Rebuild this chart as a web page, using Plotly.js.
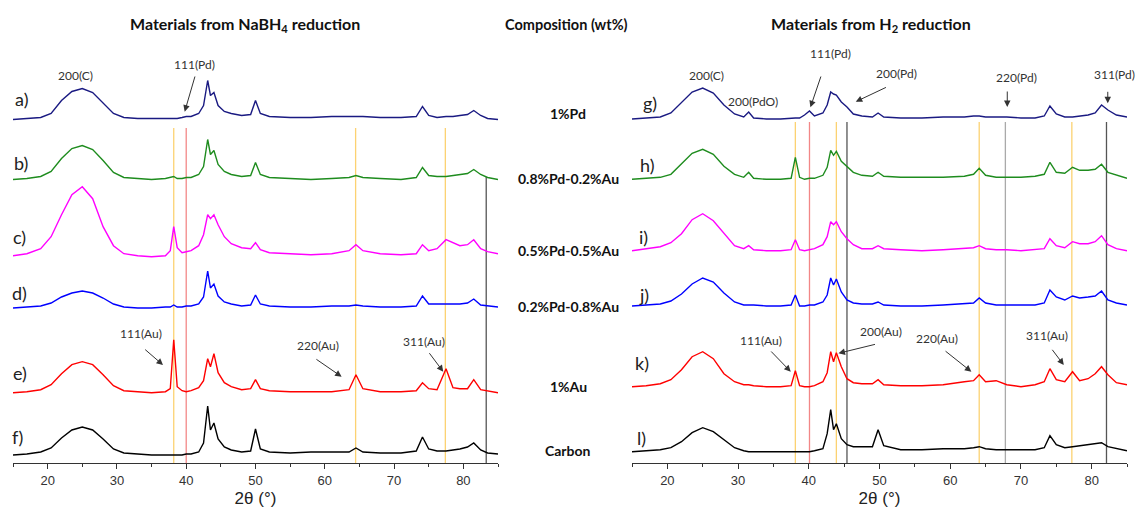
<!DOCTYPE html>
<html><head><meta charset="utf-8">
<script src="https://cdn.plot.ly/plotly-3.0.1.min.js"></script>
<style>html,body{margin:0;padding:0;background:#fff}#chart{width:1140px;height:508px}</style>
</head><body><div id="chart"></div>
<script>
// 2θ sample positions (degrees)
const twoThetaLeft = [15,17,19,20.5,22,23.5,25,26.5,28,29.5,31,33,35,37,37.7,38.2,38.7,39.4,40,40.7,41.8,42.5,43.1,43.5,44,44.6,45.5,46.5,48,49.3,50,50.7,52,55,58,61,63.5,64.5,65.5,68,71,73.2,74.1,75,76.2,77.5,78.5,79.5,80.6,81.5,82.5,83.5,85];
const twoThetaRight = [15,17,19,20.5,22,23.5,25,26.5,28,29.5,30.8,31.5,32.2,34,36,37.5,38.1,38.7,39.4,40.1,40.8,42,42.6,43.1,43.5,43.9,44.6,45.4,46.3,47.5,49,49.8,50.6,53,56,59,62,63.3,64.1,65,66.5,68,70,72,73.3,74.1,75,76.2,77.3,78.3,79.5,80.5,81.4,82.3,83.5,85];

// NaBH4 reduction series (intensity, a.u., above own baseline)
const a_1Pd      = [0,1,2,6,19,28,31,27,17,6,2,1,1,1,1,1,1,2,3,3,6,14,39,24,27,14,8,6,4,5,19,6,3,2,2,3,3,3,3,2,2,3,13,4,2,3,3,4,5,9,4,1,0];
const b_08Pd02Au = [0,1,3,8,21,31,34,30,19,7,2,1,0,1,2,3,1,1,2,2,5,13,40,25,29,15,8,5,3,4,17,5,2,1,0,1,2,4,2,1,0,2,12,4,3,3,4,5,6,10,5,2,0];
const c_05Pd05Au = [1,3,8,20,42,62,70,58,30,11,3,1,0,1,6,30,9,4,5,6,11,22,42,38,42,32,20,13,9,8,14,7,4,3,2,3,6,12,6,3,2,3,12,6,8,17,14,11,12,17,8,5,3];
const d_02Pd08Au = [0,1,2,5,11,15,17,15,10,4,1,0,0,1,1,3,1,1,2,2,4,11,37,20,24,12,6,4,2,3,13,4,2,1,1,2,2,3,2,1,1,2,12,4,4,4,4,4,5,9,3,2,1];
const e_1Au      = [0,1,3,8,19,28,31,28,18,7,2,1,0,1,4,53,6,2,1,2,5,12,34,26,39,20,10,6,3,4,13,4,2,1,1,1,3,18,4,1,1,2,10,4,3,24,5,4,4,13,3,2,0];
const f_carbon   = [0,1,3,7,17,25,28,25,16,6,2,1,0,0,0,0,0,0,1,1,3,12,49,25,32,16,8,5,3,4,26,6,3,2,3,3,3,7,3,2,2,4,18,6,4,4,5,6,8,12,5,2,1];

// H2 reduction series
const g_1Pd      = [0,1,2,6,17,27,31,26,14,5,2,7,1,0,0,1,1,1,4,8,3,6,14,27,25,24,17,12,5,3,2,6,2,1,1,2,2,3,3,2,2,2,1,1,3,13,5,2,2,3,4,6,14,9,4,2];
const h_08Pd02Au = [0,1,2,5,15,26,30,25,13,5,2,7,1,0,0,1,22,2,0,1,1,4,12,29,24,28,18,13,7,4,3,7,3,2,2,2,3,5,11,4,2,2,2,3,5,17,7,6,12,9,9,10,15,7,4,1];
const i_05Pd05Au = [0,2,4,8,17,31,37,30,17,5,2,5,1,0,0,1,11,1,0,1,2,6,14,29,26,29,19,12,6,2,2,5,2,1,0,1,2,3,5,2,1,1,0,1,2,12,5,3,9,7,7,9,15,6,2,0];
const j_02Pd08Au = [0,1,2,5,12,22,28,24,13,4,1,1,1,0,0,1,11,0,0,1,1,4,11,28,21,27,14,6,3,2,2,4,1,0,0,1,2,3,8,3,1,1,1,1,3,16,9,6,10,8,9,10,15,6,3,1];
const k_1Au      = [0,1,3,7,17,30,35,28,13,5,2,2,1,0,0,1,16,1,0,0,1,5,14,35,25,34,20,8,4,3,3,7,2,1,1,2,5,6,12,5,6,2,0,2,5,18,7,5,15,6,8,13,20,12,4,2];
const l_carbon   = [0,1,2,4,10,19,24,20,12,4,1,0,0,0,0,0,0,0,0,0,1,3,18,42,22,28,13,7,5,5,5,22,6,2,2,3,3,4,5,3,2,2,2,2,4,16,7,4,5,6,7,8,9,5,3,1];

// stacking offsets (a.u.)
const offsetsLeft  = [343.5, 283.5, 206.3, 155, 70.3, 8];
const offsetsRight = [344, 283.7, 212.3, 157, 76.3, 11.3];

// labels
const panelLettersLeft  = ['a)','b)','c)','d)','e)','f)'];
const panelLettersRight = ['g)','h)','i)','j)','k)','l)'];
const compositions = ['1%Pd','0.8%Pd-0.2%Au','0.5%Pd-0.5%Au','0.2%Pd-0.8%Au','1%Au','Carbon'];
const tickVals = [20,30,40,50,60,70,80];
const tickText = ['20','30','40','50','60','70','80'];

// reference reflection positions (2θ)
const refLinesLeft  = [38.2, 40.0, 64.45, 77.4, 83.3];
const refLinesRight = [38.1, 40.1, 43.9, 45.4, 64.1, 67.8, 77.2, 82.1];

const seriesLeft  = [a_1Pd, b_08Pd02Au, c_05Pd05Au, d_02Pd08Au, e_1Au, f_carbon];
const seriesRight = [g_1Pd, h_08Pd02Au, i_05Pd05Au, j_02Pd08Au, k_1Au, l_carbon];
const colors = ['#1a1a82','#1e8c1e','#ff00ff','#0000ff','#ff0000','#000000'];

seriesLeft.forEach((s,i)=>{ if (s.length!==twoThetaLeft.length) throw new Error('left series '+i+' length '+s.length); });
seriesRight.forEach((s,i)=>{ if (s.length!==twoThetaRight.length) throw new Error('right series '+i+' length '+s.length); });

const traces = [];
seriesLeft.forEach((s,i)=>traces.push({x:twoThetaLeft, y:s.map(v=>v+offsetsLeft[i]), type:'scatter', mode:'lines',
  line:{color:colors[i], width:1.4}, xaxis:'x', yaxis:'y', hoverinfo:'skip', showlegend:false}));
seriesRight.forEach((s,i)=>traces.push({x:twoThetaRight, y:s.map(v=>v+offsetsRight[i]), type:'scatter', mode:'lines',
  line:{color:colors[i], width:1.4}, xaxis:'x2', yaxis:'y2', hoverinfo:'skip', showlegend:false}));

const ORANGE='rgba(250,180,20,0.6)', RED='rgba(235,70,70,0.65)', DARK='#555', GRAY='#aaa';
const leftLineStyle  = [[ORANGE,335],[RED,335],[ORANGE,335],[ORANGE,335],[DARK,286]];
const rightLineStyle = [[ORANGE,341],[RED,341],[ORANGE,341],[DARK,341],[ORANGE,341],[GRAY,341],[ORANGE,341],[DARK,341]];
const shapes = [];
refLinesLeft.forEach((p,i)=>shapes.push({type:'line', xref:'x', yref:'y', x0:p, x1:p, y0:0, y1:leftLineStyle[i][1], layer:'below', line:{color:leftLineStyle[i][0], width:1.3}}));
refLinesRight.forEach((p,i)=>shapes.push({type:'line', xref:'x2', yref:'y2', x0:p, x1:p, y0:0, y1:rightLineStyle[i][1], layer:'below', line:{color:rightLineStyle[i][0], width:1.3}}));

const TXT = {family:'Lato, "Open Sans", sans-serif', size:12, color:'#333'};
const ann = [];
function label(xref, x, y, text, font){ ann.push({xref:xref, yref:'y', x:x, y:y, text:text, showarrow:false, font:font||TXT, xanchor:'center', yanchor:'middle'}); }
function arrow(xref, x, y, ax, ay){ ann.push({xref:xref, yref:'y', x:x, y:y, ax:ax, ay:ay, text:'', showarrow:true, arrowhead:2, arrowsize:1.3, arrowwidth:1, arrowcolor:'#333'}); }

// titles
const TITLE = {family:'Lato, "Open Sans", sans-serif', size:16, color:'#111'};
ann.push({xref:'paper', yref:'y', x:(245-13)/1114, y:439, text:'<b>Materials from NaBH<sub>4</sub> reduction</b>', showarrow:false, font:TITLE, xanchor:'center', yanchor:'middle'});
ann.push({xref:'paper', yref:'y', x:(566-13)/1114, y:439, text:'<b>Composition (wt%)</b>', showarrow:false, font:{family:'Lato, sans-serif', size:14.5, color:'#111'}, xanchor:'center', yanchor:'middle'});
ann.push({xref:'paper', yref:'y', x:(871-13)/1114, y:439, text:'<b>Materials from H<sub>2</sub> reduction</b>', showarrow:false, font:TITLE, xanchor:'center', yanchor:'middle'});

// composition column
const compY = [350, 284.7, 212.3, 156.3, 76.3, 13];
compositions.forEach((c,i)=>ann.push({xref:'paper', yref:'y', x:(568-13)/1114, y:compY[i], text:'<b>'+c+'</b>', showarrow:false, font:{family:'Lato, sans-serif', size:14, color:'#111'}, xanchor:'center', yanchor:'middle'}));

// panel letters
const LET = {family:'Lato, "Open Sans", sans-serif', size:18, color:'#222'};
const letLeftPos  = [[16.2,363.7],[16.2,300],[15.95,225.7],[15.95,169.7],[15.95,89.7],[15.7,25.7]];
const letRightPos = [[17.5,359.7],[17.2,298],[16.65,226],[16.65,168],[16.4,100],[16.4,25]];
panelLettersLeft.forEach((t,i)=>label('x', letLeftPos[i][0], letLeftPos[i][1], t, LET));
panelLettersRight.forEach((t,i)=>label('x2', letRightPos[i][0], letRightPos[i][1], t, LET));

// peak labels — left
label('x', 24.0, 388, '200(C)');
label('x', 41.2, 399, '111(Pd)');  arrow('x', 39.78, 351.3, 10.7, -36.7);
label('x', 33.5, 129.7, '111(Au)'); arrow('x', 36.65, 98, -19.3, -16.7);
label('x', 59.05, 118, '220(Au)'); arrow('x', 62.43, 86.3, -26.7, -18.4);
label('x', 74.3, 121.3, '311(Au)'); arrow('x', 77.1, 91.3, -15, -20);
// peak labels — right
label('x2', 25.6, 388, '200(C)');
label('x2', 32.1, 361.3, '200(PdO)');
label('x2', 43.1, 409.7, '111(Pd)'); arrow('x2', 40.23, 355.7, 11, -32.3);
label('x2', 52.4, 390, '200(Pd)'); arrow('x2', 46.64, 361.3, 31.7, -15);
label('x2', 69.4, 386, '220(Pd)'); arrow('x2', 68.07, 356, 0, -17);
label('x2', 83.2, 389, '311(Pd)'); arrow('x2', 82.28, 359.7, 0, -13);
label('x2', 33.3, 123, '111(Au)'); arrow('x2', 37.45, 91.3, -21, -21.7);
label('x2', 50.2, 131.3, '200(Au)'); arrow('x2', 44.2, 109.7, 38, -9.3);
label('x2', 58.2, 124.7, '220(Au)'); arrow('x2', 62.99, 91.3, -27.3, -21.7);
label('x2', 73.65, 128, '311(Au)'); arrow('x2', 76.06, 98, -12.6, -16.7);

const xaxisBase = {range:[15,85], tickmode:'array', tickvals:tickVals, ticktext:tickText, ticks:'outside', ticklen:5, tickwidth:1, tickcolor:'#333',
  minor:{dtick:5, tick0:15, ticks:'outside', ticklen:3, tickcolor:'#333'},
  showline:true, linecolor:'#333', linewidth:1, showgrid:false, zeroline:false,
  tickfont:{family:'"Liberation Sans", Arial, sans-serif', size:13, color:'#333'},
  title:{text:'2θ (°)', font:{family:'"Liberation Sans", Arial, sans-serif', size:17, color:'#222'}, standoff:6}, automargin:false, fixedrange:true};
const yaxisBase = {range:[0,463], visible:false, fixedrange:true, domain:[0,1]};

const layout = {
  width:1140, height:508, margin:{l:13, r:13, t:0, b:45}, paper_bgcolor:'#fff', plot_bgcolor:'rgba(0,0,0,0)',
  xaxis: Object.assign({}, xaxisBase, {domain:[0, (498-13)/1114], anchor:'y'}),
  xaxis2: Object.assign({}, xaxisBase, {domain:[(632-13)/1114, 1], anchor:'y2'}),
  yaxis: Object.assign({}, yaxisBase, {anchor:'x'}),
  yaxis2: Object.assign({}, yaxisBase, {anchor:'x2'}),
  shapes: shapes, annotations: ann, showlegend:false
};
Plotly.newPlot('chart', traces, layout, {staticPlot:true, displayModeBar:false});
</script></body></html>
